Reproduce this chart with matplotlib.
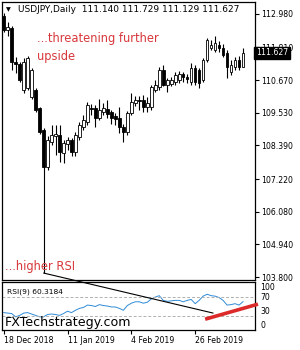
import matplotlib
matplotlib.use("Agg")
import matplotlib.pyplot as plt
import matplotlib.transforms as mtransforms
from matplotlib.patches import ConnectionPatch
import numpy as np

# daily OHLC (USDJPY, 18 Dec 2018 onwards)
opens = [112.91, 112.42, 112.49, 111.30, 111.24, 110.33, 110.40, 110.08, 110.33, 109.70,
         108.93, 107.64, 108.51, 108.72, 108.76, 108.13, 108.44, 108.58, 108.16, 108.69,
         109.04, 109.21, 109.70, 109.70, 109.35, 109.56, 109.66, 109.56, 109.42, 109.35,
         109.04, 108.86, 109.53, 109.87, 109.98, 109.98, 109.73, 109.73, 110.33, 110.43,
         111.03, 110.50, 110.54, 110.61, 110.68, 110.89, 110.78, 110.61, 111.10, 111.03,
         110.68, 111.37, 111.79, 111.72, 111.90, 111.79, 111.62, 110.96, 111.13, 111.37,
         111.13]
highs = [113.01, 112.70, 112.56, 111.48, 111.30, 111.44, 111.51, 111.10, 110.40, 109.73,
         109.00, 108.72, 109.11, 109.11, 109.11, 108.58, 108.69, 108.65, 108.86, 109.21,
         109.46, 109.91, 109.84, 109.80, 110.01, 109.87, 109.98, 109.63, 109.53, 109.73,
         109.14, 109.59, 110.22, 110.12, 110.12, 110.15, 110.08, 110.50, 110.68, 111.13,
         111.20, 110.75, 110.78, 110.96, 111.00, 110.96, 110.89, 111.27, 111.20, 111.10,
         111.44, 112.14, 112.07, 112.21, 112.04, 111.93, 111.72, 111.37, 111.48, 111.51,
         111.79]
lows = [112.35, 112.21, 111.03, 110.92, 110.61, 110.22, 110.33, 110.01, 109.56, 108.79,
        103.94, 107.54, 108.41, 108.06, 107.81, 107.78, 108.23, 108.02, 108.02, 108.58,
        108.93, 109.11, 109.46, 109.04, 109.28, 109.46, 109.35, 109.14, 109.11, 108.83,
        108.51, 108.76, 109.46, 109.77, 109.63, 109.56, 109.56, 109.63, 110.26, 110.33,
        110.47, 110.26, 110.47, 110.50, 110.57, 110.61, 110.57, 110.50, 110.50, 110.40,
        110.61, 111.30, 111.72, 111.65, 111.65, 111.48, 110.75, 110.85, 111.03, 111.03,
        111.13]
closes = [112.42, 112.53, 111.30, 111.24, 110.68, 111.30, 111.44, 111.03, 109.63, 108.86,
          107.64, 108.58, 108.76, 108.79, 108.16, 108.48, 108.58, 108.16, 108.76, 109.11,
          109.28, 109.80, 109.66, 109.35, 109.63, 109.70, 109.49, 109.35, 109.32, 109.04,
          108.86, 109.53, 109.91, 109.98, 109.94, 109.73, 109.87, 110.43, 110.50, 111.03,
          110.50, 110.68, 110.68, 110.85, 110.89, 110.78, 110.71, 111.10, 110.61, 110.57,
          111.37, 112.07, 111.90, 111.97, 111.79, 111.55, 111.13, 111.20, 111.37, 111.13,
          111.627]

rsi = [37, 36, 35, 28, 31, 36, 37, 34, 31, 28,
       28, 33, 34, 33, 31, 35, 40, 37, 42, 46,
       48, 53, 52, 50, 54, 52, 51, 49, 49, 46,
       42, 52, 57, 60, 60, 57, 59, 66, 70, 73,
       63, 61, 62, 63, 63, 60, 63, 65, 56, 63,
       72, 76, 73, 72, 69, 63, 53, 54, 56, 53,
       60.3184]

price_ticks = [112.980, 111.810, 110.670, 109.530, 108.390, 107.220, 106.080, 104.940, 103.800]
rsi_ticks = [100, 70, 30, 0]
date_pos = [0, 16, 32, 48]
date_labels = ["18 Dec 2018", "11 Jan 2019", "4 Feb 2019", "26 Feb 2019"]

# hand-drawn lines (bar index, value)
trend_start = (10, 103.94)
trend_end = (52.5, 36)
red_x = [50.5, 63.75]
red_y = [23, 55]

red = "#d8383c"

fig = plt.figure(figsize=(3.0, 3.5), dpi=100)
ax = fig.add_axes([0.0083, 0.1986, 0.8417, 0.7943])
ax2 = fig.add_axes([0.0083, 0.0571, 0.8417, 0.1371])

o = np.array(opens)
c = np.array(closes)
x = np.arange(len(closes))
up = c >= o

# candles
ax.vlines(x, lows, highs, color="black", lw=0.8, zorder=2)
ax.bar(x, np.maximum(np.abs(c - o), 0.025), bottom=np.minimum(o, c), width=0.65,
       color=np.where(up, "white", "black"), edgecolor="black", linewidth=0.6, zorder=3)

ax.set_xlim(-0.3, 63)
ax.set_ylim(103.68, 113.38)
ax.yaxis.tick_right()
ax.set_yticks(price_ticks)
ax.set_yticklabels(["%.3f" % v for v in price_ticks])
ax.tick_params(axis="y", length=3, width=0.8, labelsize=5.6, pad=1.5)
ax.set_xticks([])
for s in ax.spines.values():
    s.set_linewidth(0.9)

# header and notes
ax.text(0.012, 0.973, "\u25bc", transform=ax.transAxes, fontsize=4.5, va="center", ha="left")
ax.text(0.06, 0.973, "USDJPY,Daily  111.140 111.729 111.129 111.627", transform=ax.transAxes,
        fontsize=6.5, va="center", ha="left")
ax.text(0.137, 0.872, "...threatening further", transform=ax.transAxes, fontsize=8.3,
        color=red, va="center", ha="left")
ax.text(0.137, 0.806, "upside", transform=ax.transAxes, fontsize=8.3,
        color=red, va="center", ha="left")
ax.text(0.008, 0.049, "...higher RSI", transform=ax.transAxes, fontsize=8.3,
        color=red, va="center", ha="left")

# last price marker
trans = mtransforms.blended_transform_factory(ax.transAxes, ax.transData)
ax.text(1.004, closes[-1], "%.3f" % closes[-1], transform=trans, color="white",
        fontsize=5.6, va="center", ha="left", zorder=10, clip_on=False,
        bbox=dict(facecolor="black", edgecolor="black", pad=1.2))

# RSI panel
ax2.plot(x, rsi, color="#2f8bd6", lw=0.7)
ax2.axhline(70, color="#b0b0b0", lw=0.7, ls=(0, (3, 2)))
ax2.axhline(30, color="#b0b0b0", lw=0.7, ls=(0, (3, 2)))
ax2.set_xlim(-0.3, 63)
ax2.set_ylim(0, 102)
ax2.yaxis.tick_right()
ax2.set_yticks(rsi_ticks)
ax2.set_yticklabels([str(v) for v in rsi_ticks])
ax2.tick_params(axis="y", length=0, labelsize=5.6, pad=4)
for lbl, va in zip(ax2.get_yticklabels(), ["top", "center", "bottom", "bottom"]):
    lbl.set_va(va)
ax2.set_xticks(date_pos)
ax2.set_xticklabels(date_labels)
ax2.tick_params(axis="x", length=3, width=0.8, labelsize=5.6, pad=1.5)
for lbl in ax2.get_xticklabels():
    lbl.set_ha("left")
for s in ax2.spines.values():
    s.set_linewidth(0.9)

ax2.text(0.018, 0.79, "RSI(9) 60.3184", transform=ax2.transAxes, fontsize=5.4,
         va="center", ha="left")
ax2.text(0.01, 0.16, "FXTechstrategy.com", transform=ax2.transAxes, fontsize=9.1,
         va="center", ha="left", zorder=5)

ax2.plot(red_x, red_y, color="#dc2a2a", lw=2.6, clip_on=False, solid_capstyle="butt", zorder=6)

con = ConnectionPatch(xyA=trend_start, coordsA=ax.transData, xyB=trend_end, coordsB=ax2.transData,
                      color="black", lw=0.8)
fig.add_artist(con)

fig.savefig("out.png", dpi=100)
